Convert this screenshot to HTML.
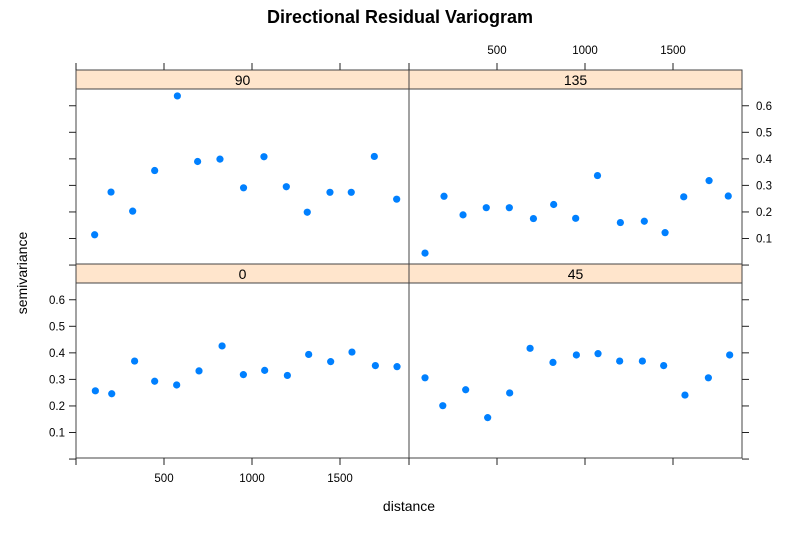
<!DOCTYPE html>
<html><head><meta charset="utf-8"><style>
body{margin:0;background:#fff;}
svg{display:block;font-family:"Liberation Sans",sans-serif;}
</style></head><body>
<svg id="chart" width="800" height="535" viewBox="0 0 800 535" xmlns="http://www.w3.org/2000/svg">
<text x="400" y="23" text-anchor="middle" font-size="18" font-weight="bold">Directional Residual Variogram</text>
<text x="409" y="511" text-anchor="middle" font-size="14">distance</text>
<text x="27" y="273" text-anchor="middle" font-size="14" transform="rotate(-90 27 273)">semivariance</text>
<g id="layer"></g>
</svg>
<script>
const panelNames = ["90","135","0","45"];
const xTicks = [0,500,1000,1500];
const yTicks = [0,0.1,0.2,0.3,0.4,0.5,0.6];
const dist90 = [106,199,322,447,576,691,818,952,1068,1195,1314,1443,1564,1695,1822];
const gamma90 = [0.114,0.275,0.203,0.356,0.637,0.390,0.399,0.291,0.408,0.295,0.199,0.274,0.274,0.409,0.248];
const dist135 = [91,199,307,439,570,707,822,947,1071,1201,1337,1455,1561,1705,1814];
const gamma135 = [0.045,0.259,0.189,0.216,0.216,0.175,0.228,0.176,0.337,0.160,0.165,0.122,0.257,0.318,0.260];
const dist0 = [110,203,333,447,572,699,830,951,1072,1201,1322,1447,1568,1701,1824];
const gamma0 = [0.257,0.246,0.369,0.293,0.279,0.332,0.426,0.318,0.334,0.315,0.394,0.367,0.403,0.352,0.348];
const dist45 = [91,192,322,447,572,688,818,951,1074,1197,1326,1447,1568,1701,1822];
const gamma45 = [0.306,0.201,0.261,0.156,0.249,0.417,0.364,0.392,0.397,0.369,0.369,0.352,0.241,0.306,0.392];

const NS="http://www.w3.org/2000/svg";
const layer=document.getElementById('layer');
function mk(tag,attrs,parent){const e=document.createElementNS(NS,tag);for(const k in attrs)e.setAttribute(k,attrs[k]);(parent||layer).appendChild(e);return e;}
const X0=[76,409], PW=333;
const PLOT_TOP=[89,283], PH=175;
const xScale=(col,d)=>X0[col]+d*(88/500);
const yScale=(row,v)=>PLOT_TOP[row]+149.5-(v-0.1)*265.5;
const panels=[
 {name:panelNames[0],row:0,col:0,d:dist90,g:gamma90},
 {name:panelNames[1],row:0,col:1,d:dist135,g:gamma135},
 {name:panelNames[2],row:1,col:0,d:dist0,g:gamma0},
 {name:panelNames[3],row:1,col:1,d:dist45,g:gamma45}];
panels.forEach(p=>{
  const g=mk('g',{});
  
  
  const x=X0[p.col], top=PLOT_TOP[p.row];
  const strip=mk('rect',{x:x,y:top-19,width:PW,height:19,fill:'#ffe5cc',stroke:'#444','stroke-width':1},g);
  
  
  const st=mk('text',{x:x+PW/2,y:top-4,'text-anchor':'middle','font-size':14},g);
  st.textContent=p.name;
  
  
  const fr=mk('rect',{x:x,y:top,width:PW,height:PH,fill:'none',stroke:'#444','stroke-width':1},g);
  
  
  p.d.forEach((d,i)=>{
    const c=mk('circle',{cx:xScale(p.col,d),cy:yScale(p.row,p.g[i]),r:3.6,fill:'#0080ff'},g);
    
    
  });
});
// axes
const ax=mk('g',{stroke:'#222','stroke-width':1});


[0,1].forEach(col=>{
  xTicks.forEach(t=>{
    const x=xScale(col,t);
    mk('line',{x1:x,x2:x,y1:458,y2:465},ax);
    mk('line',{x1:x,x2:x,y1:63,y2:70},ax);
    const lab = (col===0)? {y:482}:{y:54};
    if(t>0){
      const tx=mk('text',{x:x,y:lab.y,'text-anchor':'middle','font-size':11.5,stroke:'none',fill:'#000'},ax);
      tx.textContent=t;
      
      
    }
  });
});
[0,1].forEach(row=>{
  yTicks.forEach(v=>{
    const y=yScale(row,v);
    mk('line',{x1:69,x2:76,y1:y,y2:y},ax);
    mk('line',{x1:742,x2:749,y1:y,y2:y},ax);
    if(v>0){
      const left=row===1;
      const tx=mk('text',{x:left?65:756,y:y+4,'text-anchor':left?'end':'start','font-size':11.5,stroke:'none',fill:'#000'},ax);
      tx.textContent=v.toFixed(1);
      
      
    }
  });
});
</script>
</body></html>
